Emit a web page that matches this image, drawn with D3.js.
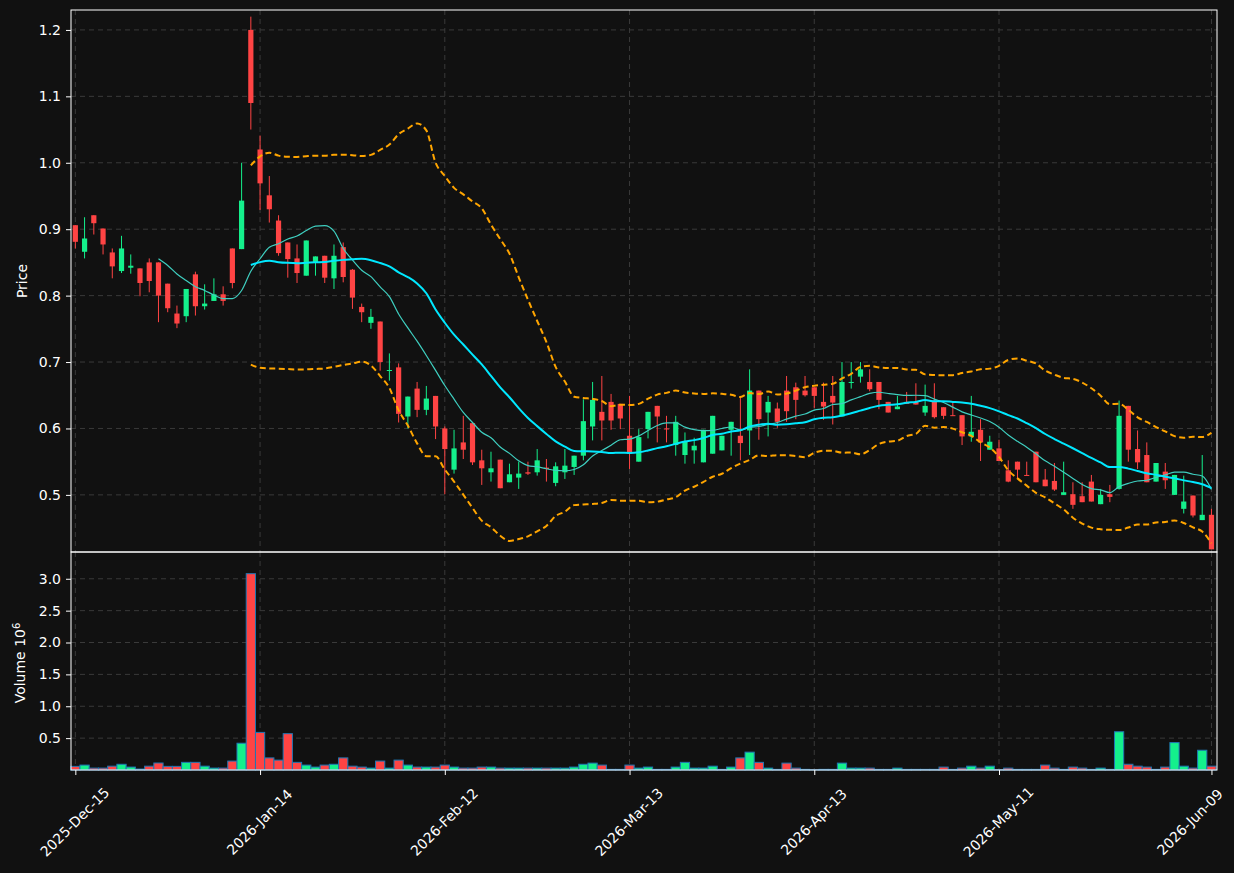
<!DOCTYPE html>
<html>
<head>
<meta charset="utf-8">
<script src="https://cdn.jsdelivr.net/npm/d3@7"></script>
<style>
  html, body { margin: 0; padding: 0; background: #111111; }
  text { font-family: "DejaVu Sans", sans-serif; fill: #ffffff; }
</style>
</head>
<body>
<script>
// daily OHLC
const opens = [
  0.906, 0.866, 0.921, 0.901, 0.865, 0.837, 0.842, 0.841, 0.850, 0.850,
  0.818, 0.773, 0.769, 0.832, 0.784, 0.792, 0.802, 0.871, 0.870, 1.200,
  1.020, 0.951, 0.913, 0.880, 0.856, 0.830, 0.850, 0.860, 0.826, 0.873,
  0.839, 0.783, 0.759, 0.761, 0.688, 0.692, 0.618, 0.660, 0.628, 0.649,
  0.600, 0.538, 0.579, 0.608, 0.552, 0.534, 0.553, 0.519, 0.526, 0.534,
  0.534, 0.541, 0.518, 0.534, 0.542, 0.559, 0.603, 0.625, 0.640, 0.637,
  0.589, 0.550, 0.599, 0.634, 0.600, 0.575, 0.560, 0.567, 0.549, 0.562,
  0.567, 0.598, 0.589, 0.597, 0.657, 0.624, 0.630, 0.657, 0.662, 0.657,
  0.662, 0.640, 0.649, 0.618, 0.669, 0.678, 0.670, 0.670, 0.640, 0.629,
  0.640, 0.640, 0.624, 0.642, 0.632, 0.620, 0.620, 0.588, 0.598, 0.568,
  0.570, 0.537, 0.550, 0.530, 0.565, 0.523, 0.521, 0.500, 0.501, 0.498,
  0.520, 0.486, 0.501, 0.509, 0.634, 0.569, 0.560, 0.520, 0.535, 0.500,
  0.479, 0.499, 0.462, 0.470
];
const highs = [
  0.906, 0.918, 0.921, 0.901, 0.871, 0.890, 0.862, 0.841, 0.856, 0.850,
  0.818, 0.785, 0.810, 0.836, 0.817, 0.826, 0.814, 0.871, 1.000, 1.220,
  1.041, 0.980, 0.921, 0.880, 0.877, 0.883, 0.859, 0.860, 0.877, 0.880,
  0.840, 0.788, 0.780, 0.761, 0.713, 0.698, 0.648, 0.670, 0.664, 0.649,
  0.603, 0.598, 0.619, 0.608, 0.568, 0.565, 0.553, 0.547, 0.550, 0.550,
  0.569, 0.554, 0.549, 0.569, 0.559, 0.644, 0.670, 0.679, 0.652, 0.637,
  0.649, 0.599, 0.625, 0.634, 0.619, 0.619, 0.594, 0.586, 0.598, 0.619,
  0.589, 0.610, 0.649, 0.689, 0.657, 0.649, 0.639, 0.679, 0.669, 0.679,
  0.662, 0.669, 0.679, 0.700, 0.700, 0.700, 0.689, 0.670, 0.640, 0.649,
  0.655, 0.668, 0.666, 0.668, 0.632, 0.639, 0.620, 0.649, 0.614, 0.589,
  0.583, 0.552, 0.550, 0.550, 0.565, 0.539, 0.548, 0.550, 0.519, 0.519,
  0.530, 0.509, 0.515, 0.642, 0.634, 0.597, 0.579, 0.548, 0.548, 0.530,
  0.529, 0.499, 0.560, 0.479
];
const lows = [
  0.871, 0.856, 0.892, 0.862, 0.826, 0.834, 0.833, 0.799, 0.805, 0.760,
  0.775, 0.751, 0.760, 0.770, 0.779, 0.792, 0.785, 0.811, 0.870, 1.050,
  0.929, 0.910, 0.860, 0.827, 0.819, 0.830, 0.830, 0.819, 0.810, 0.820,
  0.780, 0.760, 0.750, 0.687, 0.672, 0.609, 0.600, 0.617, 0.620, 0.584,
  0.501, 0.532, 0.554, 0.545, 0.515, 0.520, 0.510, 0.519, 0.509, 0.530,
  0.529, 0.520, 0.513, 0.524, 0.530, 0.552, 0.582, 0.582, 0.598, 0.599,
  0.539, 0.550, 0.585, 0.579, 0.579, 0.559, 0.547, 0.547, 0.549, 0.562,
  0.567, 0.559, 0.552, 0.560, 0.583, 0.588, 0.601, 0.610, 0.614, 0.648,
  0.631, 0.613, 0.606, 0.618, 0.660, 0.669, 0.656, 0.629, 0.624, 0.629,
  0.637, 0.636, 0.619, 0.615, 0.614, 0.619, 0.575, 0.580, 0.551, 0.568,
  0.551, 0.519, 0.524, 0.529, 0.519, 0.513, 0.506, 0.500, 0.479, 0.489,
  0.490, 0.486, 0.489, 0.508, 0.550, 0.539, 0.519, 0.520, 0.509, 0.500,
  0.472, 0.466, 0.462, 0.418
];
const closes = [
  0.881, 0.886, 0.909, 0.877, 0.844, 0.871, 0.845, 0.819, 0.822, 0.800,
  0.781, 0.758, 0.810, 0.784, 0.788, 0.802, 0.792, 0.819, 0.943, 1.090,
  0.969, 0.930, 0.864, 0.855, 0.834, 0.883, 0.859, 0.827, 0.860, 0.828,
  0.797, 0.775, 0.768, 0.700, 0.688, 0.622, 0.648, 0.628, 0.645, 0.603,
  0.569, 0.570, 0.568, 0.549, 0.540, 0.540, 0.510, 0.531, 0.532, 0.532,
  0.552, 0.539, 0.543, 0.544, 0.559, 0.611, 0.643, 0.612, 0.612, 0.615,
  0.562, 0.587, 0.625, 0.618, 0.599, 0.610, 0.580, 0.574, 0.598, 0.619,
  0.589, 0.610, 0.578, 0.657, 0.614, 0.640, 0.610, 0.626, 0.643, 0.650,
  0.649, 0.633, 0.639, 0.670, 0.670, 0.689, 0.659, 0.643, 0.624, 0.633,
  0.637, 0.636, 0.634, 0.617, 0.619, 0.619, 0.588, 0.595, 0.579, 0.580,
  0.551, 0.520, 0.538, 0.529, 0.519, 0.513, 0.508, 0.504, 0.485, 0.489,
  0.490, 0.500, 0.497, 0.619, 0.568, 0.549, 0.519, 0.548, 0.522, 0.530,
  0.490, 0.469, 0.470, 0.418
];
// volume in millions
const volumes = [
  0.057, 0.077, 0.030, 0.030, 0.060, 0.090, 0.046, 0.015, 0.060, 0.110,
  0.057, 0.057, 0.120, 0.120, 0.060, 0.030, 0.030, 0.140, 0.420, 3.080,
  0.590, 0.190, 0.155, 0.570, 0.120, 0.077, 0.046, 0.077, 0.090, 0.190,
  0.060, 0.046, 0.030, 0.140, 0.030, 0.155, 0.077, 0.046, 0.046, 0.046,
  0.077, 0.046, 0.030, 0.030, 0.046, 0.046, 0.030, 0.030, 0.030, 0.030,
  0.030, 0.030, 0.030, 0.030, 0.046, 0.090, 0.108, 0.077, 0.010, 0.010,
  0.077, 0.030, 0.046, 0.010, 0.010, 0.046, 0.120, 0.030, 0.030, 0.060,
  0.010, 0.046, 0.190, 0.280, 0.120, 0.030, 0.010, 0.108, 0.030, 0.010,
  0.005, 0.010, 0.010, 0.108, 0.030, 0.030, 0.030, 0.010, 0.010, 0.030,
  0.010, 0.010, 0.010, 0.010, 0.046, 0.010, 0.030, 0.060, 0.030, 0.060,
  0.005, 0.030, 0.010, 0.010, 0.010, 0.077, 0.030, 0.010, 0.046, 0.030,
  0.010, 0.030, 0.010, 0.600, 0.090, 0.060, 0.046, 0.010, 0.046, 0.430,
  0.060, 0.030, 0.310, 0.060
];
const tickIndex = [0, 20, 40, 60, 80, 100, 123];
const tickLabels = ["2025-Dec-15", "2026-Jan-14", "2026-Feb-12", "2026-Mar-13",
                    "2026-Apr-13", "2026-May-11", "2026-Jun-09"];
const priceTicks = [0.5, 0.6, 0.7, 0.8, 0.9, 1.0, 1.1, 1.2];
const volTicks = [0.5, 1.0, 1.5, 2.0, 2.5, 3.0];

const UP = "#14f08c", DOWN = "#ff4444";

const data = opens.map((o, i) => ({
  i, o, h: highs[i], l: lows[i], c: closes[i], v: volumes[i], up: closes[i] >= o
}));

// rolling indicators from the closes
function rolling(n) {
  return data.map((d, i) => {
    if (i < n - 1) return null;
    const w = closes.slice(i - n + 1, i + 1);
    const m = d3.mean(w);
    return { i, m, s: d3.deviation(w) };
  }).filter(d => d);
}
const ma10 = rolling(10), ma20 = rolling(20);

const W = 1234, H = 873;
const left = 71, right = 1217;
const pTop = 10, pBot = 552, vTop = 552, vBot = 770;

const svg = d3.select("body").append("svg")
  .attr("width", W).attr("height", H)
  .style("background-color", "#111111");

const x = d3.scaleLinear().domain([-0.47, 123.6]).range([left, right]);
const y = d3.scaleLinear().domain([0.414, 1.230]).range([pBot, pTop]);
const yv = d3.scaleLinear().domain([0, 3.42]).range([vBot, vTop]);

const grid = "#3a3a3a";

// grids
[[pTop, pBot], [vTop, vBot]].forEach(([t, b]) => {
  svg.append("g").selectAll("line").data(tickIndex).enter().append("line")
    .attr("x1", d => x(d)).attr("x2", d => x(d)).attr("y1", t).attr("y2", b)
    .attr("stroke", grid).attr("stroke-dasharray", "5,4");
});
svg.append("g").selectAll("line").data(priceTicks).enter().append("line")
  .attr("x1", left).attr("x2", right).attr("y1", d => y(d)).attr("y2", d => y(d))
  .attr("stroke", grid).attr("stroke-dasharray", "5,4");
svg.append("g").selectAll("line").data(volTicks).enter().append("line")
  .attr("x1", left).attr("x2", right).attr("y1", d => yv(d)).attr("y2", d => yv(d))
  .attr("stroke", grid).attr("stroke-dasharray", "5,4");

// candles
const pc = svg.append("g");
pc.selectAll(".wick").data(data).enter().append("line")
  .attr("x1", d => x(d.i)).attr("x2", d => x(d.i))
  .attr("y1", d => y(d.h)).attr("y2", d => y(d.l))
  .attr("stroke", d => d.up ? UP : DOWN).attr("stroke-width", 1);
pc.selectAll(".body").data(data).enter().append("rect")
  .attr("x", d => x(d.i) - 2.6).attr("width", 5.2)
  .attr("y", d => y(Math.max(d.o, d.c)))
  .attr("height", d => Math.max(1, Math.abs(y(d.o) - y(d.c))))
  .attr("fill", d => d.up ? UP : DOWN);

// lines
const lineM = d3.line().x(d => x(d.i)).y(d => y(d.m)).curve(d3.curveMonotoneX);
svg.append("path").datum(ma10).attr("d", lineM)
  .attr("fill", "none").attr("stroke", "#3fcfc0").attr("stroke-width", 1.2);
svg.append("path").datum(ma20).attr("d", lineM)
  .attr("fill", "none").attr("stroke", "#00e8ff").attr("stroke-width", 2);
const band = k => d3.line().x(d => x(d.i)).y(d => y(d.m + k * d.s)).curve(d3.curveMonotoneX);
[2, -2].forEach(k => {
  svg.append("path").datum(ma20).attr("d", band(k))
    .attr("fill", "none").attr("stroke", "#ffa500").attr("stroke-width", 2)
    .attr("stroke-dasharray", "6,3.5");
});

// volume bars
const bw = x(1) - x(0);
svg.append("g").selectAll("rect").data(data).enter().append("rect")
  .attr("x", d => x(d.i) - bw / 2).attr("width", bw)
  .attr("y", d => yv(d.v)).attr("height", d => vBot - yv(d.v))
  .attr("fill", d => d.up ? UP : DOWN)
  .attr("stroke", "#1f77b4").attr("stroke-width", 1);

// frames
svg.append("rect").attr("x", left).attr("y", pTop).attr("width", right - left)
  .attr("height", pBot - pTop).attr("fill", "none").attr("stroke", "#ffffff");
svg.append("rect").attr("x", left).attr("y", vTop).attr("width", right - left)
  .attr("height", vBot - vTop).attr("fill", "none").attr("stroke", "#ffffff");

// axes
function styleAxis(g) {
  g.select(".domain").remove();
  g.selectAll(".tick line").attr("stroke", "#ffffff");
  g.selectAll(".tick text").attr("fill", "#ffffff").style("font-size", "14px")
    .style("font-family", "DejaVu Sans");
}
svg.append("g").attr("transform", `translate(${left},0)`)
  .call(d3.axisLeft(y).tickValues(priceTicks).tickFormat(d3.format(".1f")).tickSize(5).tickPadding(5))
  .call(styleAxis);
svg.append("g").attr("transform", `translate(${left},0)`)
  .call(d3.axisLeft(yv).tickValues(volTicks).tickFormat(d3.format(".1f")).tickSize(5).tickPadding(5))
  .call(styleAxis);
const xa = svg.append("g").attr("transform", `translate(0,${vBot})`)
  .call(d3.axisBottom(x).tickValues(tickIndex).tickFormat((d, i) => tickLabels[i]).tickSize(5))
  .call(styleAxis);
// labels rotated about their centre; the last one is pulled in to stay on the page
xa.selectAll(".tick text")
  .attr("text-anchor", "middle").attr("x", 0).attr("y", 0).attr("dy", "0.35em")
  .attr("transform", (d, i) => `translate(${i === tickIndex.length - 1 ? -22 : -1},52) rotate(-45)`);

svg.append("text").attr("transform", `translate(27,${(pTop + pBot) / 2}) rotate(-90)`)
  .attr("text-anchor", "middle").style("font-size", "14px").text("Price");
const vl = svg.append("text").attr("transform", `translate(25,${(vTop + vBot) / 2 + 2}) rotate(-90)`)
  .attr("text-anchor", "middle").style("font-size", "14px");
vl.append("tspan").text("Volume  10");
vl.append("tspan").attr("dy", "-0.5em").style("font-size", "10px").text("6");
</script>
</body>
</html>
